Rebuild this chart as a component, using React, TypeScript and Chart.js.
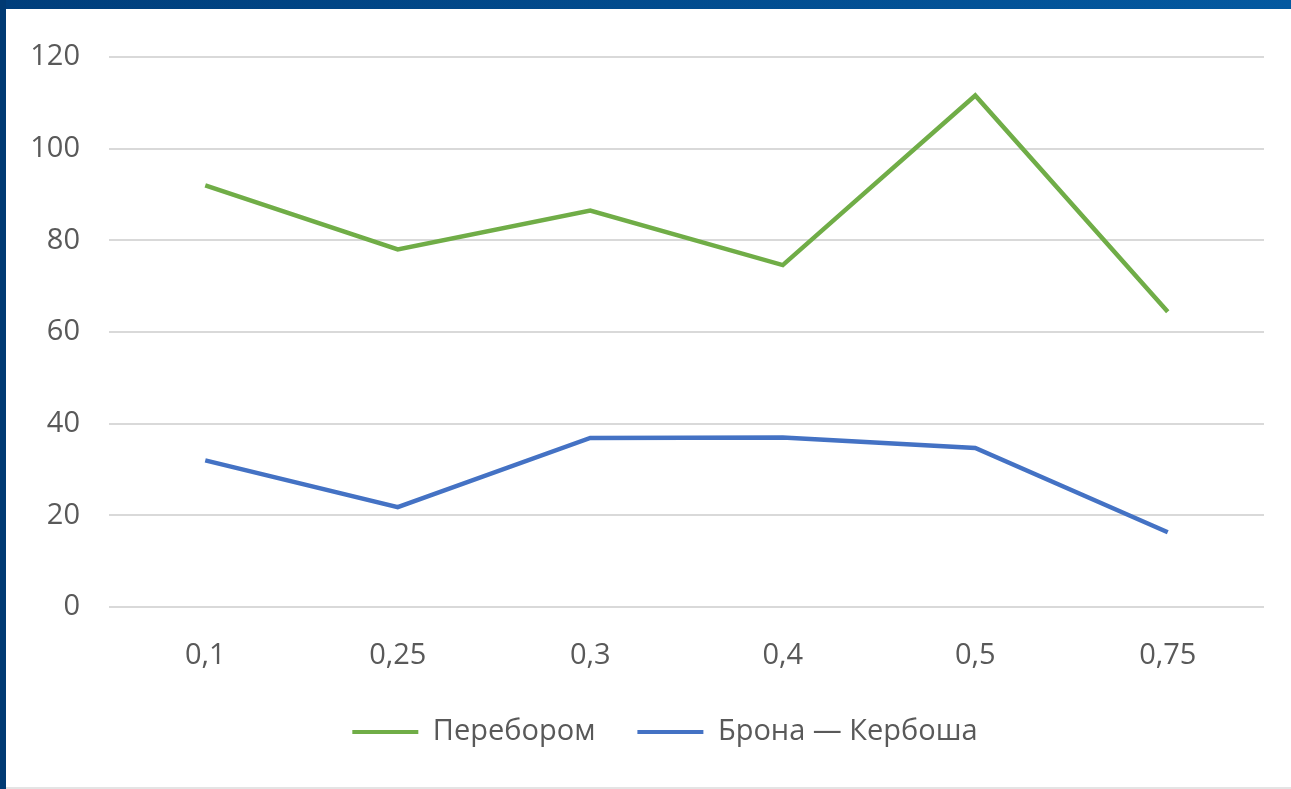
import React, { useEffect, useRef } from "react";
import { Chart, registerables } from "chart.js";

Chart.register(...registerables);

const categories = ["0,1", "0,25", "0,3", "0,4", "0,5", "0,75"];
const pereborom = [92, 78, 86.5, 74.6, 111.6, 64.4];
const bronKerbosh = [32, 21.8, 36.9, 37, 34.7, 16.3];
const yTicks = [0, 20, 40, 60, 80, 100, 120];

const GREEN = "#70AD47";
const BLUE = "#4472C4";
const TEXT = "#595959";
const FONT = "'Open Sans', 'Noto Sans', sans-serif";

const legendShift = {
  id: "legendShift",
  afterLayout(chart: any) {
    const lg = chart.legend;
    if (lg) {
      lg.left = 59;
      lg.right = 1259;
    }
  },
};

export default function App() {
  const ref = useRef<HTMLCanvasElement | null>(null);

  useEffect(() => {
    if (!ref.current) return;
    const chart = new Chart(ref.current, {
      type: "line",
      data: {
        labels: categories,
        datasets: [
          {
            label: "Перебором",
            data: pereborom,
            borderColor: GREEN,
            backgroundColor: GREEN,
            borderWidth: 4.5,
            pointRadius: 0,
            tension: 0,
          },
          {
            label: "Брона — Кербоша",
            data: bronKerbosh,
            borderColor: BLUE,
            backgroundColor: BLUE,
            borderWidth: 4.5,
            pointRadius: 0,
            tension: 0,
          },
        ],
      },
      plugins: [legendShift],
      options: {
        animation: false,
        responsive: false,
        maintainAspectRatio: false,
        layout: { padding: { top: 48, right: 27, bottom: 30.5, left: 0 } },
        plugins: {
          tooltip: { enabled: false },
          legend: {
            position: "bottom",
            labels: {
              font: { family: FONT, size: 29 },
              color: TEXT,
              boxWidth: 66,
              boxHeight: 4,
              padding: 42,
              generateLabels: (c: any) =>
                Chart.defaults.plugins.legend.labels
                  .generateLabels(c)
                  .map((l: any) => ({ ...l, lineWidth: 0 })),
            },
          },
        },
        scales: {
          x: {
            offset: true,
            grid: { display: false, drawTicks: false },
            border: { display: false },
            ticks: {
              font: { family: FONT, size: 29 },
              color: TEXT,
              padding: 31,
              maxRotation: 0,
            },
            afterFit: (s: any) => {
              s.height = 68.5;
            },
          },
          y: {
            min: 0,
            max: 120,
            afterBuildTicks: (s: any) => {
              s.ticks = yTicks.map((v) => ({ value: v }));
            },
            grid: { color: "#d9d9d9", lineWidth: 2, drawTicks: false },
            border: { display: false },
            ticks: {
              font: { family: FONT, size: 29 },
              color: TEXT,
              padding: 29,
            },
            afterFit: (s: any) => {
              s.width = 103;
            },
          },
        },
      },
    });
    return () => chart.destroy();
  }, []);

  return (
    <div
      style={{
        position: "absolute",
        left: 0,
        top: 0,
        width: 1291,
        height: 789,
        background: "#e4e4e4",
        overflow: "hidden",
      }}
    >
      <div
        style={{
          position: "absolute",
          left: 0,
          top: 0,
          width: 1291,
          height: 9,
          background: "linear-gradient(to right, #003e7b, #0459a0)",
        }}
      />
      <div
        style={{
          position: "absolute",
          left: 0,
          top: 0,
          width: 6,
          height: 789,
          background: "#003a73",
        }}
      />
      <div
        style={{
          position: "absolute",
          left: 6,
          top: 9,
          width: 1285,
          height: 778,
          background: "#ffffff",
        }}
      >
        <canvas ref={ref} width={1285} height={778} style={{ display: "block" }} />
      </div>
    </div>
  );
}
